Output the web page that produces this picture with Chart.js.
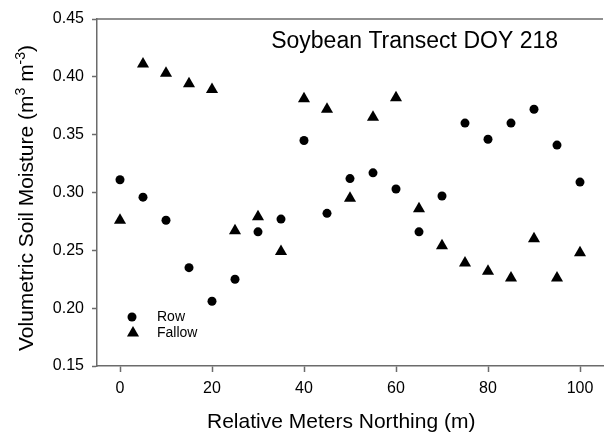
<!DOCTYPE html>
<html>
<head>
<meta charset="utf-8">
<title>Soybean Transect DOY 218</title>
<script src="https://cdn.jsdelivr.net/npm/chart.js@4.4.1/dist/chart.umd.min.js"></script>
<style>
    html, body { margin: 0; padding: 0; background: #fff; overflow: hidden; }
    #wrap { width: 610px; height: 435px; }
</style>
</head>
<body>
<div id="wrap"><canvas id="moistureChart" width="610" height="435"></canvas></div>
<script>

const seriesLabels = ['Row', 'Fallow'];
const northing = [0, 5, 10, 15, 20, 25, 30, 35, 40, 45, 50, 55, 60, 65, 70, 75, 80, 85, 90, 95, 100];
const rowMoisture = [0.311, 0.296, 0.276, 0.235, 0.206, 0.225, 0.266, 0.277, 0.345, 0.282, 0.312,
                     0.317, 0.303, 0.266, 0.297, 0.360, 0.346, 0.360, 0.372, 0.341, 0.309];
const fallowMoisture = [0.276, 0.411, 0.403, 0.394, 0.389, 0.267, 0.279, 0.249, 0.381, 0.372, 0.295,
                        0.365, 0.382, 0.286, 0.254, 0.239, 0.232, 0.226, 0.260, 0.226, 0.248];
const xTicks = [0, 20, 40, 60, 80, 100];
const yTicks = [0.15, 0.20, 0.25, 0.30, 0.35, 0.40, 0.45];

const FONT = '"Liberation Sans", Arial, sans-serif';
const AXIS_GRAY = '#6b6b6b';

const toPoints = (values) => northing.map((x, i) => ({ x: x, y: values[i] }));

// Title, legend, axis titles and the top frame line
const plotDecor = {
    id: 'plotDecor',
    afterDraw(chart) {
        const { ctx, chartArea } = chart;
        ctx.save();

        ctx.strokeStyle = AXIS_GRAY;
        ctx.lineWidth = 1.5;
        ctx.beginPath();
        ctx.moveTo(chartArea.left, chartArea.top);
        ctx.lineTo(chartArea.right, chartArea.top);
        ctx.stroke();

        ctx.fillStyle = '#000';
        ctx.textBaseline = 'alphabetic';
        ctx.font = `23px ${FONT}`;
        ctx.textAlign = 'right';
        ctx.fillText('Soybean Transect DOY 218', 558, 48);

        // legend
        const legendPos = [[132, 317], [133, 333]];
        ctx.textAlign = 'left';
        ctx.textBaseline = 'middle';
        ctx.font = `14px ${FONT}`;
        chart.data.datasets.forEach((ds, i) => {
            const [lx, ly] = legendPos[i];
            ctx.fillStyle = '#000';
            Chart.helpers.drawPoint(ctx, {
                pointStyle: ds.pointStyle,
                radius: ds.pointRadius,
                rotation: 0,
                borderWidth: 0
            }, lx, ly);
            ctx.fillText(ds.label, 157, ly + 0.5);
        });

        // x axis title
        ctx.textBaseline = 'alphabetic';
        ctx.textAlign = 'left';
        ctx.font = `21px ${FONT}`;
        ctx.fillText('Relative Meters Northing (m)', 207, 428);

        // y axis title with superscript exponents
        const parts = [
            ['Volumetric Soil Moisture (m', false],
            ['3', true],
            [' m', false],
            ['-3', true],
            [')', false]
        ];
        const measure = (txt, sup) => {
            ctx.font = sup ? `14px ${FONT}` : `21px ${FONT}`;
            return ctx.measureText(txt).width;
        };
        const total = parts.reduce((w, [t, s]) => w + measure(t, s), 0);
        ctx.translate(33, 198);
        ctx.rotate(-Math.PI / 2);
        ctx.textAlign = 'left';
        let px = -total / 2;
        parts.forEach(([t, s]) => {
            const w = measure(t, s);
            ctx.fillText(t, px, s ? -8 : 0);
            px += w;
        });

        ctx.restore();
    }
};

const ctx = document.getElementById('moistureChart').getContext('2d');
const moistureChart = new Chart(ctx, {
    type: 'scatter',
    data: {
        datasets: [
            {
                label: seriesLabels[0],
                data: toPoints(rowMoisture),
                pointStyle: 'circle',
                pointRadius: 4.5,
                backgroundColor: '#000',
                borderWidth: 0
            },
            {
                label: seriesLabels[1],
                data: toPoints(fallowMoisture),
                pointStyle: 'triangle',
                pointRadius: 7,
                backgroundColor: '#000',
                borderWidth: 0
            }
        ]
    },
    options: {
        responsive: false,
        animation: false,
        devicePixelRatio: 1,
        events: [],
        layout: { padding: { top: 19, right: 4, left: 0, bottom: 0 } },
        plugins: {
            legend: { display: false },
            tooltip: { enabled: false }
        },
        scales: {
            x: {
                type: 'linear',
                min: -5,
                max: 105,
                afterBuildTicks: (scale) => { scale.ticks = xTicks.map(v => ({ value: v })); },
                afterFit: (scale) => { scale.height = 69; },
                ticks: {
                    color: '#000',
                    font: { family: FONT, size: 16 },
                    padding: 7,
                    maxRotation: 0
                },
                grid: {
                    drawOnChartArea: false,
                    drawTicks: true,
                    tickLength: 6,
                    tickColor: AXIS_GRAY,
                    tickWidth: 1.5
                },
                border: { display: true, color: AXIS_GRAY, width: 1.5 }
            },
            y: {
                type: 'linear',
                min: 0.15,
                max: 0.45,
                afterBuildTicks: (scale) => { scale.ticks = yTicks.map(v => ({ value: v })); },
                afterFit: (scale) => { scale.width = 97; },
                ticks: {
                    color: '#000',
                    font: { family: FONT, size: 16 },
                    padding: 8,
                    callback: (v) => Number(v).toFixed(2)
                },
                grid: {
                    drawOnChartArea: false,
                    drawTicks: true,
                    tickLength: 5,
                    tickColor: AXIS_GRAY,
                    tickWidth: 1.5
                },
                border: { display: true, color: AXIS_GRAY, width: 1.5 }
            }
        }
    },
    plugins: [plotDecor]
});
</script>
</body>
</html>
